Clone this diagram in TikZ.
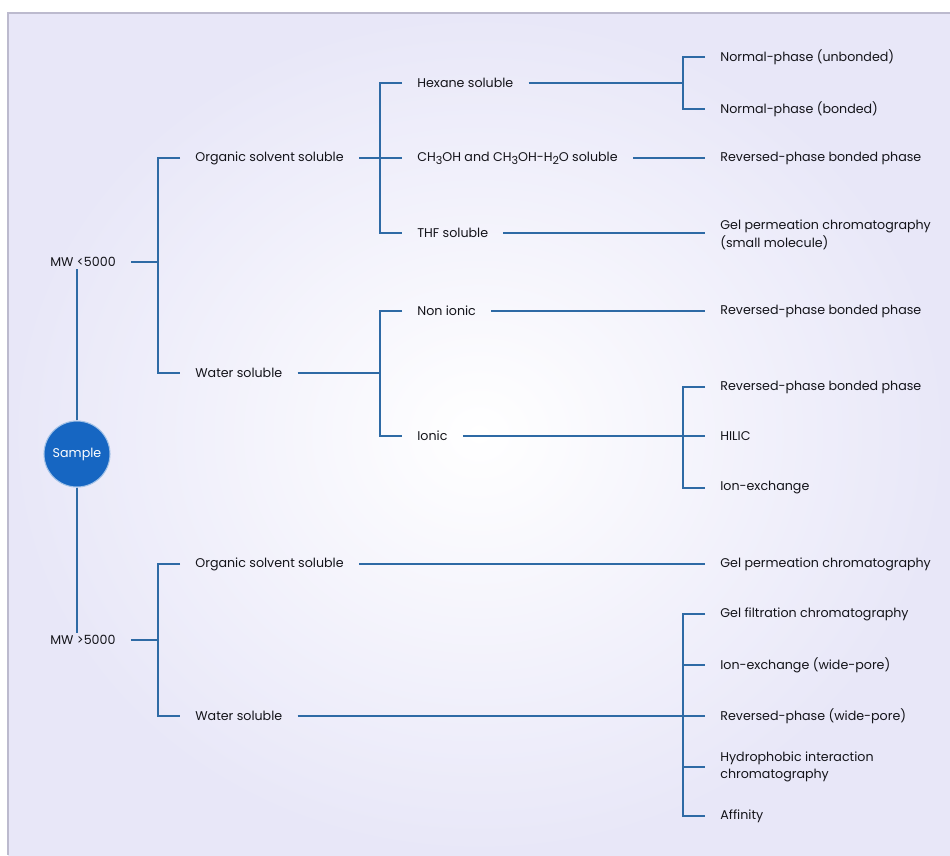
\documentclass[tikz,border=0pt]{standalone}
\usepackage{fontspec}
\setmainfont{Poppins}
\usetikzlibrary{positioning, calc}
\usepackage{xcolor}

\definecolor{linkblue}{RGB}{46,106,165}
\definecolor{sampleblue}{RGB}{22,102,194}
\definecolor{bgedge}{RGB}{232,231,248}
\definecolor{bgline}{RGB}{188,186,206}
\definecolor{textdark}{RGB}{20,20,26}

\newcommand{\subtxt}[1]{\raisebox{-0.4ex}{\fontsize{6.3}{7}\selectfont #1}}

\begin{document}
\begin{tikzpicture}[
    x=0.2mm,
    y=-0.2mm,
    every node/.style={font=\fontsize{7.2}{10}\selectfont},
    link/.style={
        draw=linkblue,
        line width=1.1pt
    },
    rotulo/.style={
        anchor=west,
        text=textdark,
        inner xsep=3mm,
        inner ysep=1pt,
        align=left
    },
    amostra/.style={
        circle,
        fill=sampleblue,
        draw=sampleblue!40,
        line width=0.6pt,
        text=white,
        minimum size=13.2mm,
        inner sep=0pt
    }
]

% ============================================================
% FUNDO
% ============================================================

\useasboundingbox (0,0) rectangle (950,855);
\shade[inner color=white, outer color=bgedge] (8,13) rectangle (950,855);
\draw[bgline, line width=0.8pt] (8,855) -- (8,13) -- (950,13);

% ============================================================
% AMOSTRA E PESO MOLECULAR
% ============================================================

\node[amostra] (sample) at (77,454) {Sample};

\node[rotulo] (mwA) at (35,262) {MW <5000};
\node[rotulo] (mwB) at (35,640) {MW >5000};

\draw[link] (sample.north) -- (sample.north |- mwA.south);
\draw[link] (sample.south) -- (sample.south |- mwB.north);

% ============================================================
% MW < 5000
% ============================================================

\node[rotulo] (orgA) at (180,158) {Organic solvent soluble};
\node[rotulo] (watA) at (180,373) {Water soluble};

\coordinate (sA) at (158,262);
\draw[link] (mwA.east) -- (sA);
\draw[link] (orgA.west) -| (sA) |- (watA.west);

% solvente organico
\node[rotulo] (hexA) at (402,83) {Hexane soluble};
\node[rotulo] (chA) at (402,158)
{CH\subtxt{3}OH and CH\subtxt{3}OH-H\subtxt{2}O soluble};
\node[rotulo] (thfA) at (402,233) {THF soluble};

\draw[link] (orgA.east) -- (chA.west);
\draw[link] (hexA.west) -| (380,158) |- (thfA.west);

\node[rotulo] (np1) at (705,57) {Normal-phase (unbonded)};
\node[rotulo] (np2) at (705,109) {Normal-phase (bonded)};
\node[rotulo] (rp1) at (705,158) {Reversed-phase bonded phase};
\node[rotulo] (gpc1) at (705,235)
{Gel permeation chromatography\\(small molecule)};

\coordinate (sHex) at (683,83);
\draw[link] (hexA.east) -- (sHex);
\draw[link] (np1.west) -| (sHex) |- (np2.west);
\draw[link] (chA.east) -- (rp1.west);
\draw[link] (thfA.east) -- (thfA.east -| gpc1.west);

% soluvel em agua
\node[rotulo] (nonA) at (402,311) {Non ionic};
\node[rotulo] (ionA) at (402,436) {Ionic};

\coordinate (sWat) at (380,373);
\draw[link] (watA.east) -- (sWat);
\draw[link] (nonA.west) -| (sWat) |- (ionA.west);

\node[rotulo] (rp2) at (705,311) {Reversed-phase bonded phase};
\node[rotulo] (rp3) at (705,387) {Reversed-phase bonded phase};
\node[rotulo] (hilic) at (705,436) {HILIC};
\node[rotulo] (ionx) at (705,488) {Ion-exchange};

\draw[link] (nonA.east) -- (rp2.west);
\draw[link] (ionA.east) -- (hilic.west);
\draw[link] (rp3.west) -| (683,436) |- (ionx.west);

% ============================================================
% MW > 5000
% ============================================================

\node[rotulo] (orgB) at (180,564) {Organic solvent soluble};
\node[rotulo] (watB) at (180,716) {Water soluble};

\coordinate (sB) at (158,640);
\draw[link] (mwB.east) -- (sB);
\draw[link] (orgB.west) -| (sB) |- (watB.west);

\node[rotulo] (gpc2) at (705,564) {Gel permeation chromatography};
\node[rotulo] (gfc) at (705,614) {Gel filtration chromatography};
\node[rotulo] (iex) at (705,665) {Ion-exchange (wide-pore)};
\node[rotulo] (rp4) at (705,716) {Reversed-phase (wide-pore)};
\node[rotulo] (hic) at (705,767)
{Hydrophobic interaction\\chromatography};
\node[rotulo] (aff) at (705,816) {Affinity};

\draw[link] (orgB.east) -- (gpc2.west);
\draw[link] (watB.east) -- (rp4.west);
\draw[link] (gfc.west) -| (683,716) |- (aff.west);
\draw[link] (683,665) -- (iex.west);
\draw[link] (683,767) -- (hic.west);

\end{tikzpicture}
\end{document}
